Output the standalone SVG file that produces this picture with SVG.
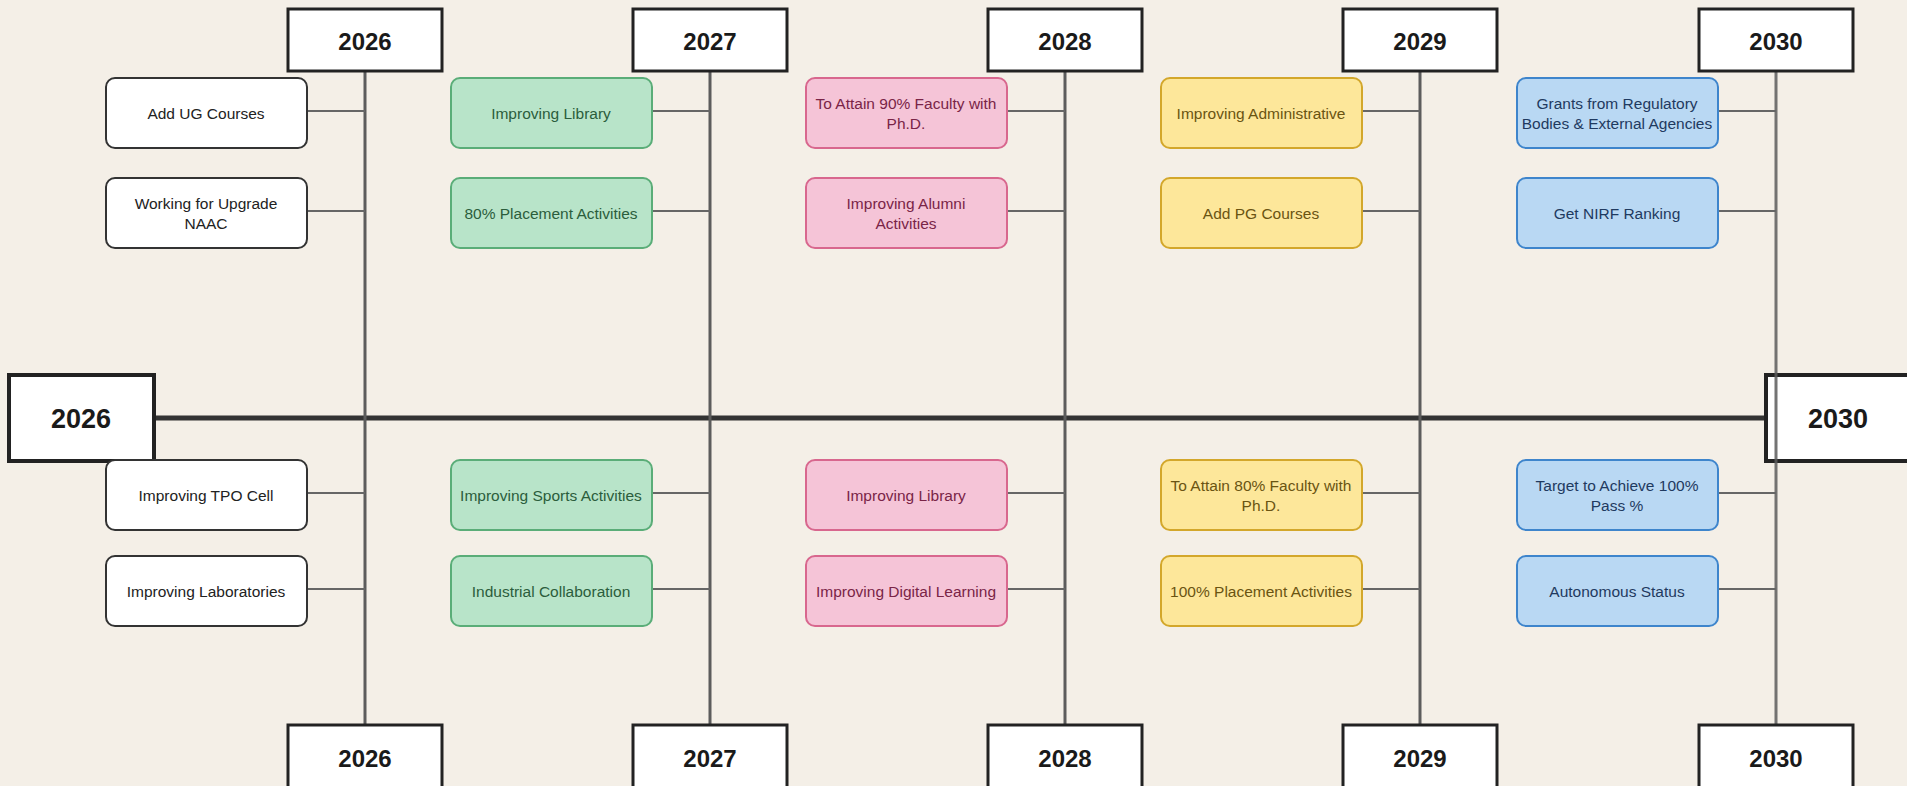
<svg xmlns="http://www.w3.org/2000/svg" width="1907" height="786" viewBox="0 0 1907 786">
<style>
.bg{fill:#f4efe7}
.yr{fill:#fff;stroke:#222;stroke-width:3}
.big{fill:#fff;stroke:#222;stroke-width:4}
.yt{font-family:"Liberation Sans",Arial,sans-serif;font-weight:bold;font-size:24px;fill:#1a1a1a;text-anchor:middle;dominant-baseline:central}
.bt{font-family:"Liberation Sans",Arial,sans-serif;font-weight:bold;font-size:27px;fill:#1a1a1a;text-anchor:middle;dominant-baseline:central}
.card{stroke-width:2}
.ct{font-family:"Liberation Sans",Arial,sans-serif;font-size:15.5px;text-anchor:middle;dominant-baseline:central}
.w rect{fill:#fff;stroke:#333}
.w text{fill:#222}
.g rect{fill:#b8e4c9;stroke:#5aad78}
.g text{fill:#2b5d3c}
.p rect{fill:#f5c4d7;stroke:#d8678e}
.p text{fill:#7a2447}
.y rect{fill:#fde79a;stroke:#d3a72b}
.y text{fill:#6a5412}
.b rect{fill:#b9d8f3;stroke:#3e85cc}
.b text{fill:#1f3a60}
.main{stroke:#333;stroke-width:5}
.vl{stroke:#5c5c5c;stroke-width:3}
.cn{stroke:#666;stroke-width:2}
</style>
<rect class="bg" x="0" y="0" width="1907" height="786"/>
<g id="connectors">
<line class="main" x1="154" y1="418" x2="1766" y2="418"/>
</g>
<g id="start-2026"><rect class="big" x="9" y="375" width="145" height="86"/><text class="bt" x="81" y="419">2026</text></g>
<g id="end-2030"><rect class="big" x="1766" y="375" width="145" height="86"/><text class="bt" x="1838" y="419">2030</text></g>
<g id="verticals">
<line class="vl" x1="365" y1="71" x2="365" y2="725"/>
<line class="vl" x1="710" y1="71" x2="710" y2="725"/>
<line class="vl" x1="1065" y1="71" x2="1065" y2="725"/>
<line class="vl" x1="1420" y1="71" x2="1420" y2="725"/>
<line class="vl" x1="1776" y1="71" x2="1776" y2="725" stroke-opacity="0.85"/>
</g>
<g id="branches">
<line class="cn" x1="307" y1="111" x2="365" y2="111"/><line class="cn" x1="307" y1="211" x2="365" y2="211"/><line class="cn" x1="307" y1="493" x2="365" y2="493"/><line class="cn" x1="307" y1="589" x2="365" y2="589"/>
<line class="cn" x1="652" y1="111" x2="710" y2="111"/><line class="cn" x1="652" y1="211" x2="710" y2="211"/><line class="cn" x1="652" y1="493" x2="710" y2="493"/><line class="cn" x1="652" y1="589" x2="710" y2="589"/>
<line class="cn" x1="1007" y1="111" x2="1065" y2="111"/><line class="cn" x1="1007" y1="211" x2="1065" y2="211"/><line class="cn" x1="1007" y1="493" x2="1065" y2="493"/><line class="cn" x1="1007" y1="589" x2="1065" y2="589"/>
<line class="cn" x1="1362" y1="111" x2="1420" y2="111"/><line class="cn" x1="1362" y1="211" x2="1420" y2="211"/><line class="cn" x1="1362" y1="493" x2="1420" y2="493"/><line class="cn" x1="1362" y1="589" x2="1420" y2="589"/>
<line class="cn" x1="1718" y1="111" x2="1776" y2="111"/><line class="cn" x1="1718" y1="211" x2="1776" y2="211"/><line class="cn" x1="1718" y1="493" x2="1776" y2="493"/><line class="cn" x1="1718" y1="589" x2="1776" y2="589"/>
</g>
<g id="top-2026"><rect class="yr" x="288" y="9" width="154" height="62"/><text class="yt" x="365" y="41">2026</text></g>
<g id="top-2027"><rect class="yr" x="633" y="9" width="154" height="62"/><text class="yt" x="710" y="41">2027</text></g>
<g id="top-2028"><rect class="yr" x="988" y="9" width="154" height="62"/><text class="yt" x="1065" y="41">2028</text></g>
<g id="top-2029"><rect class="yr" x="1343" y="9" width="154" height="62"/><text class="yt" x="1420" y="41">2029</text></g>
<g id="top-2030"><rect class="yr" x="1699" y="9" width="154" height="62"/><text class="yt" x="1776" y="41">2030</text></g>
<g id="bottom-2026"><rect class="yr" x="288" y="725" width="154" height="64"/><text class="yt" x="365" y="758">2026</text></g>
<g id="bottom-2027"><rect class="yr" x="633" y="725" width="154" height="64"/><text class="yt" x="710" y="758">2027</text></g>
<g id="bottom-2028"><rect class="yr" x="988" y="725" width="154" height="64"/><text class="yt" x="1065" y="758">2028</text></g>
<g id="bottom-2029"><rect class="yr" x="1343" y="725" width="154" height="64"/><text class="yt" x="1420" y="758">2029</text></g>
<g id="bottom-2030"><rect class="yr" x="1699" y="725" width="154" height="64"/><text class="yt" x="1776" y="758">2030</text></g>

<g id="c2026-1" class="w"><rect class="card" x="106" y="78" width="201" height="70" rx="9"/><text class="ct" x="206" y="113">Add UG Courses</text></g>
<g id="c2026-2" class="w"><rect class="card" x="106" y="178" width="201" height="70" rx="9"/><text class="ct" x="206" y="203">Working for Upgrade</text><text class="ct" x="206" y="223">NAAC</text></g>
<g id="c2026-3" class="w"><rect class="card" x="106" y="460" width="201" height="70" rx="9"/><text class="ct" x="206" y="495">Improving TPO Cell</text></g>
<g id="c2026-4" class="w"><rect class="card" x="106" y="556" width="201" height="70" rx="9"/><text class="ct" x="206" y="591">Improving Laboratories</text></g>

<g id="c2027-1" class="g"><rect class="card" x="451" y="78" width="201" height="70" rx="9"/><text class="ct" x="551" y="113">Improving Library</text></g>
<g id="c2027-2" class="g"><rect class="card" x="451" y="178" width="201" height="70" rx="9"/><text class="ct" x="551" y="213">80% Placement Activities</text></g>
<g id="c2027-3" class="g"><rect class="card" x="451" y="460" width="201" height="70" rx="9"/><text class="ct" x="551" y="495">Improving Sports Activities</text></g>
<g id="c2027-4" class="g"><rect class="card" x="451" y="556" width="201" height="70" rx="9"/><text class="ct" x="551" y="591">Industrial Collaboration</text></g>

<g id="c2028-1" class="p"><rect class="card" x="806" y="78" width="201" height="70" rx="9"/><text class="ct" x="906" y="103">To Attain 90% Faculty with</text><text class="ct" x="906" y="123">Ph.D.</text></g>
<g id="c2028-2" class="p"><rect class="card" x="806" y="178" width="201" height="70" rx="9"/><text class="ct" x="906" y="203">Improving Alumni</text><text class="ct" x="906" y="223">Activities</text></g>
<g id="c2028-3" class="p"><rect class="card" x="806" y="460" width="201" height="70" rx="9"/><text class="ct" x="906" y="495">Improving Library</text></g>
<g id="c2028-4" class="p"><rect class="card" x="806" y="556" width="201" height="70" rx="9"/><text class="ct" x="906" y="591">Improving Digital Learning</text></g>

<g id="c2029-1" class="y"><rect class="card" x="1161" y="78" width="201" height="70" rx="9"/><text class="ct" x="1261" y="113">Improving Administrative</text></g>
<g id="c2029-2" class="y"><rect class="card" x="1161" y="178" width="201" height="70" rx="9"/><text class="ct" x="1261" y="213">Add PG Courses</text></g>
<g id="c2029-3" class="y"><rect class="card" x="1161" y="460" width="201" height="70" rx="9"/><text class="ct" x="1261" y="485">To Attain 80% Faculty with</text><text class="ct" x="1261" y="505">Ph.D.</text></g>
<g id="c2029-4" class="y"><rect class="card" x="1161" y="556" width="201" height="70" rx="9"/><text class="ct" x="1261" y="591">100% Placement Activities</text></g>

<g id="c2030-1" class="b"><rect class="card" x="1517" y="78" width="201" height="70" rx="9"/><text class="ct" x="1617" y="103">Grants from Regulatory</text><text class="ct" x="1617" y="123">Bodies &amp; External Agencies</text></g>
<g id="c2030-2" class="b"><rect class="card" x="1517" y="178" width="201" height="70" rx="9"/><text class="ct" x="1617" y="213">Get NIRF Ranking</text></g>
<g id="c2030-3" class="b"><rect class="card" x="1517" y="460" width="201" height="70" rx="9"/><text class="ct" x="1617" y="485">Target to Achieve 100%</text><text class="ct" x="1617" y="505">Pass %</text></g>
<g id="c2030-4" class="b"><rect class="card" x="1517" y="556" width="201" height="70" rx="9"/><text class="ct" x="1617" y="591">Autonomous Status</text></g>
</svg>
